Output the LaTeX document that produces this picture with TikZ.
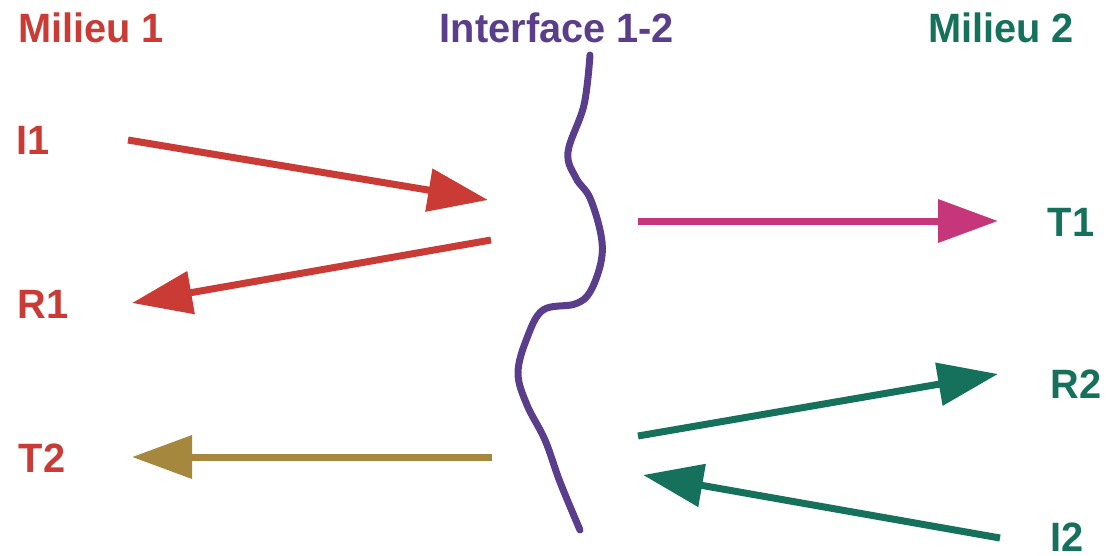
\documentclass[tikz,border=0pt]{standalone}
\usepackage{fontspec}
\setmainfont{Liberation Sans}[FakeStretch=0.97]
\usetikzlibrary{arrows.meta}
\definecolor{cred}{RGB}{201,59,52}
\definecolor{cpurple}{RGB}{91,62,139}
\definecolor{cgreen}{RGB}{21,113,91}
\definecolor{cmagenta}{RGB}{198,54,122}
\definecolor{colive}{RGB}{165,136,62}
\tikzset{
  lbl/.style={anchor=base, inner sep=0pt, font=\fontsize{41}{41}\selectfont\bfseries},
  ray/.style={line width=7pt, -{Triangle[length=60pt,width=42pt]}},
}
\begin{document}
\begin{tikzpicture}[x=1pt,y=-1pt]
\useasboundingbox (0,0) rectangle (1106,555);
% headings
\node[lbl, text=cred] (m1) at (91,42) {Milieu 1};
\node[lbl, text=cpurple] (itf) at (557,42) {Interface 1-2};
\node[lbl, text=cgreen] (m2) at (1001,42) {Milieu 2};
% labels
\node[lbl, text=cred] (I1) at (33,154) {I1};
\node[lbl, text=cred] (R1) at (43,318) {R1};
\node[lbl, text=cred] (T2) at (42,472) {T2};
\node[lbl, text=cgreen] (T1) at (1071,236) {T1};
\node[lbl, text=cgreen] (R2) at (1076,398) {R2};
\node[lbl, text=cgreen] (I2) at (1067,551) {I2};
% interface curve
\draw[cpurple, line width=7pt, line cap=round] plot[smooth, tension=0.6] coordinates {
 (590,55) (584,105) (568,152) (576,178) (590,198) (601,235) (601,262) (590,292) (575,304) (543,310) (527,338) (518,373) (527,405) (545,440) (560,482) (580,530)};
% arrow end points
\coordinate (i1s) at (128,140); \coordinate (i1e) at (488,200);
\coordinate (r1s) at (491,240); \coordinate (r1e) at (132,303);
\coordinate (t1s) at (638,221); \coordinate (t1e) at (998,221);
\coordinate (t2s) at (492,457); \coordinate (t2e) at (132,457);
\coordinate (r2s) at (638,436); \coordinate (r2e) at (998,374);
\coordinate (i2s) at (1000,538); \coordinate (i2e) at (643,475);
\draw[ray, cred] (i1s) -- (i1e);
\draw[ray, cred] (r1s) -- (r1e);
\draw[ray, cmagenta] (t1s) -- (t1e);
\draw[ray, colive] (t2s) -- (t2e);
\draw[ray, cgreen] (r2s) -- (r2e);
\draw[ray, cgreen] (i2s) -- (i2e);
\end{tikzpicture}
\end{document}
